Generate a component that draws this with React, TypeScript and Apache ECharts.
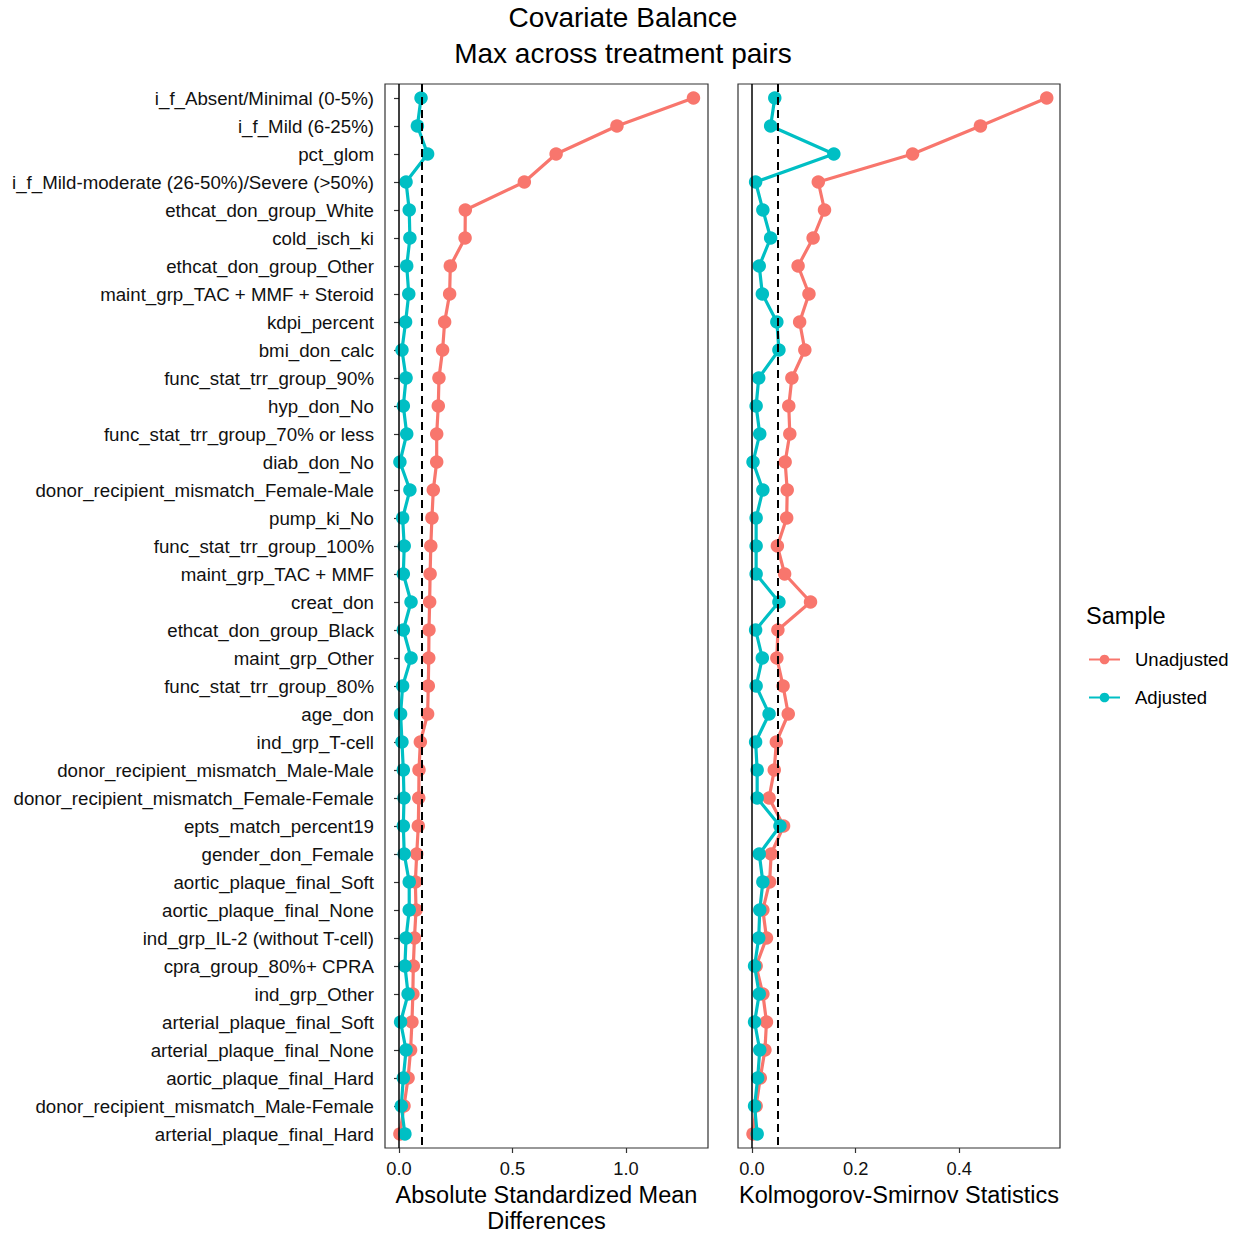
import React, { useEffect, useRef } from "react";
import * as echarts from "echarts";

const categories = [
  "i_f_Absent/Minimal (0-5%)",
  "i_f_Mild (6-25%)",
  "pct_glom",
  "i_f_Mild-moderate (26-50%)/Severe (>50%)",
  "ethcat_don_group_White",
  "cold_isch_ki",
  "ethcat_don_group_Other",
  "maint_grp_TAC + MMF + Steroid",
  "kdpi_percent",
  "bmi_don_calc",
  "func_stat_trr_group_90%",
  "hyp_don_No",
  "func_stat_trr_group_70% or less",
  "diab_don_No",
  "donor_recipient_mismatch_Female-Male",
  "pump_ki_No",
  "func_stat_trr_group_100%",
  "maint_grp_TAC + MMF",
  "creat_don",
  "ethcat_don_group_Black",
  "maint_grp_Other",
  "func_stat_trr_group_80%",
  "age_don",
  "ind_grp_T-cell",
  "donor_recipient_mismatch_Male-Male",
  "donor_recipient_mismatch_Female-Female",
  "epts_match_percent19",
  "gender_don_Female",
  "aortic_plaque_final_Soft",
  "aortic_plaque_final_None",
  "ind_grp_IL-2 (without T-cell)",
  "cpra_group_80%+ CPRA",
  "ind_grp_Other",
  "arterial_plaque_final_Soft",
  "arterial_plaque_final_None",
  "aortic_plaque_final_Hard",
  "donor_recipient_mismatch_Male-Female",
  "arterial_plaque_final_Hard",
];

const smdUnadjusted = [
  1.297, 0.96, 0.692, 0.552, 0.292, 0.291, 0.226, 0.223, 0.201, 0.192,
  0.176, 0.173, 0.166, 0.166, 0.151, 0.145, 0.14, 0.137, 0.135, 0.132,
  0.131, 0.129, 0.126, 0.094, 0.088, 0.087, 0.085, 0.078, 0.072, 0.075,
  0.068, 0.063, 0.061, 0.057, 0.051, 0.04, 0.022, 0.004,
];
const smdAdjusted = [
  0.097, 0.081, 0.126, 0.031, 0.045, 0.048, 0.034, 0.043, 0.029, 0.013,
  0.031, 0.019, 0.034, 0.004, 0.048, 0.016, 0.023, 0.019, 0.053, 0.019,
  0.053, 0.016, 0.007, 0.013, 0.019, 0.022, 0.019, 0.023, 0.045, 0.045,
  0.031, 0.026, 0.04, 0.007, 0.031, 0.019, 0.01, 0.026,
];
const ksUnadjusted = [
  0.569, 0.441, 0.31, 0.128, 0.14, 0.118, 0.089, 0.11, 0.092, 0.102,
  0.077, 0.071, 0.073, 0.064, 0.068, 0.067, 0.049, 0.063, 0.113, 0.05,
  0.048, 0.06, 0.07, 0.047, 0.043, 0.033, 0.061, 0.037, 0.034, 0.021,
  0.028, 0.008, 0.021, 0.028, 0.025, 0.016, 0.008, 0.002,
];
const ksAdjusted = [
  0.044, 0.036, 0.158, 0.007, 0.021, 0.036, 0.014, 0.02, 0.048, 0.052,
  0.013, 0.008, 0.015, 0.002, 0.021, 0.008, 0.008, 0.008, 0.052, 0.007,
  0.02, 0.008, 0.033, 0.007, 0.01, 0.01, 0.054, 0.014, 0.021, 0.015,
  0.013, 0.005, 0.014, 0.005, 0.015, 0.011, 0.005, 0.01,
];

const smdTicks = [0, 0.5, 1.0];
const ksTicks = [0, 0.2, 0.4];
const smdThreshold = 0.1;
const ksThreshold = 0.05;

const RED = "#F8766D";
const CYAN = "#00BFC4";
const TEXT = "#111111";
const FONT = "'Liberation Sans', Arial, Helvetica, sans-serif";

export default function App() {
  const ref = useRef<HTMLDivElement>(null);

  useEffect(() => {
    if (!ref.current) return;
    const chart = echarts.init(ref.current, undefined, { renderer: "svg" });

    const panelTop = 84;
    const panelHeight = 1064;

    const xAxisCommon = (
      gridIndex: number,
      min: number,
      max: number,
      ticks: number[],
      name: string
    ) => ({
      type: "value",
      gridIndex,
      min,
      max,
      name,
      nameLocation: "middle",
      nameGap: 34,
      nameTextStyle: { fontSize: 23.5, color: "#000", lineHeight: 26, fontFamily: FONT, verticalAlign: "top" },
      splitLine: { show: false },
      axisLine: { show: false },
      axisTick: { show: true, length: 5, customValues: ticks, lineStyle: { color: "#333", width: 1.2 } },
      axisLabel: {
        show: true,
        customValues: ticks,
        formatter: (v: number) => v.toFixed(1),
        fontSize: 18.3,
        color: TEXT,
        margin: 11,
        fontFamily: FONT,
      },
    });

    const yAxisCommon = (gridIndex: number, showLabels: boolean) => ({
      type: "category",
      gridIndex,
      data: categories,
      inverse: true,
      boundaryGap: true,
      axisLine: { show: false },
      splitLine: { show: false },
      axisTick: {
        show: showLabels,
        alignWithLabel: true,
        length: 5,
        lineStyle: { color: "#333", width: 1.2 },
      },
      axisLabel: {
        show: showLabels,
        fontSize: 18.7,
        color: TEXT,
        margin: 11,
        fontFamily: FONT,
      },
    });

    const pts = (vals: number[]) => vals.map((v, i) => [v, categories[i]]);

    const lineSeries = (name: string, color: string, vals: number[], axisIdx: number, z: number) => ({
      type: "line",
      name,
      xAxisIndex: axisIdx,
      yAxisIndex: axisIdx,
      data: pts(vals),
      symbol: "circle",
      symbolSize: 13.5,
      showSymbol: true,
      z,
      itemStyle: { color },
      lineStyle: { color, width: 3.2 },
      emphasis: { disabled: true },
    });

    const refLines = (axisIdx: number, threshold: number) => ({
      type: "line",
      name: "ref" + axisIdx,
      xAxisIndex: axisIdx,
      yAxisIndex: axisIdx,
      data: [],
      z: 1,
      silent: true,
      markLine: {
        silent: true,
        symbol: "none",
        label: { show: false },
        animation: false,
        data: [
          { xAxis: 0, lineStyle: { color: "#000", width: 1.5, type: "solid" } },
          { xAxis: threshold, lineStyle: { color: "#000", width: 2, type: [8, 5] } },
        ],
      },
    });

    const gridCommon = {
      top: panelTop,
      height: panelHeight,
      show: true,
      borderColor: "#333",
      borderWidth: 1.2,
      backgroundColor: "#fff",
      containLabel: false,
      outerBoundsMode: "none",
    };

    chart.setOption({
      animation: false,
      textStyle: { fontFamily: FONT },
      grid: [
        { ...gridCommon, left: 385, width: 323 },
        { ...gridCommon, left: 738, width: 322 },
      ],
      xAxis: [
        xAxisCommon(0, -0.0617, 1.361, smdTicks, "Absolute Standardized Mean\nDifferences"),
        xAxisCommon(1, -0.027, 0.5946, ksTicks, "Kolmogorov-Smirnov Statistics"),
      ],
      yAxis: [yAxisCommon(0, true), yAxisCommon(1, false)],
      legend: {
        data: [
          { name: "Unadjusted", itemStyle: { color: RED } },
          { name: "Adjusted", itemStyle: { color: CYAN } },
        ],
        orient: "vertical",
        left: 1088,
        top: 650,
        padding: 0,
        itemWidth: 31,
        itemHeight: 12,
        itemGap: 19,
        selectedMode: false,
        textStyle: { fontSize: 18.5, color: "#000", fontFamily: FONT, padding: [0, 0, 0, 10] },
      },
      graphic: [
        {
          type: "text",
          x: 623,
          y: 17,
          style: { text: "Covariate Balance", fontSize: 28, fill: "#000", align: "center", verticalAlign: "middle", fontFamily: FONT },
        },
        {
          type: "text",
          x: 623,
          y: 53,
          style: { text: "Max across treatment pairs", fontSize: 28, fill: "#000", align: "center", verticalAlign: "middle", fontFamily: FONT },
        },
        {
          type: "text",
          x: 1086,
          y: 616,
          style: { text: "Sample", fontSize: 23.5, fill: "#000", align: "left", verticalAlign: "middle", fontFamily: FONT },
        },
      ],
      series: [
        refLines(0, smdThreshold),
        refLines(1, ksThreshold),
        lineSeries("Unadjusted", RED, smdUnadjusted, 0, 2),
        lineSeries("Adjusted", CYAN, smdAdjusted, 0, 3),
        lineSeries("Unadjusted", RED, ksUnadjusted, 1, 2),
        lineSeries("Adjusted", CYAN, ksAdjusted, 1, 3),
      ],
    });

    return () => chart.dispose();
  }, []);

  return (
    <div
      ref={ref}
      style={{ position: "absolute", left: 0, top: 0, width: 1240, height: 1236, background: "#fff" }}
    />
  );
}
